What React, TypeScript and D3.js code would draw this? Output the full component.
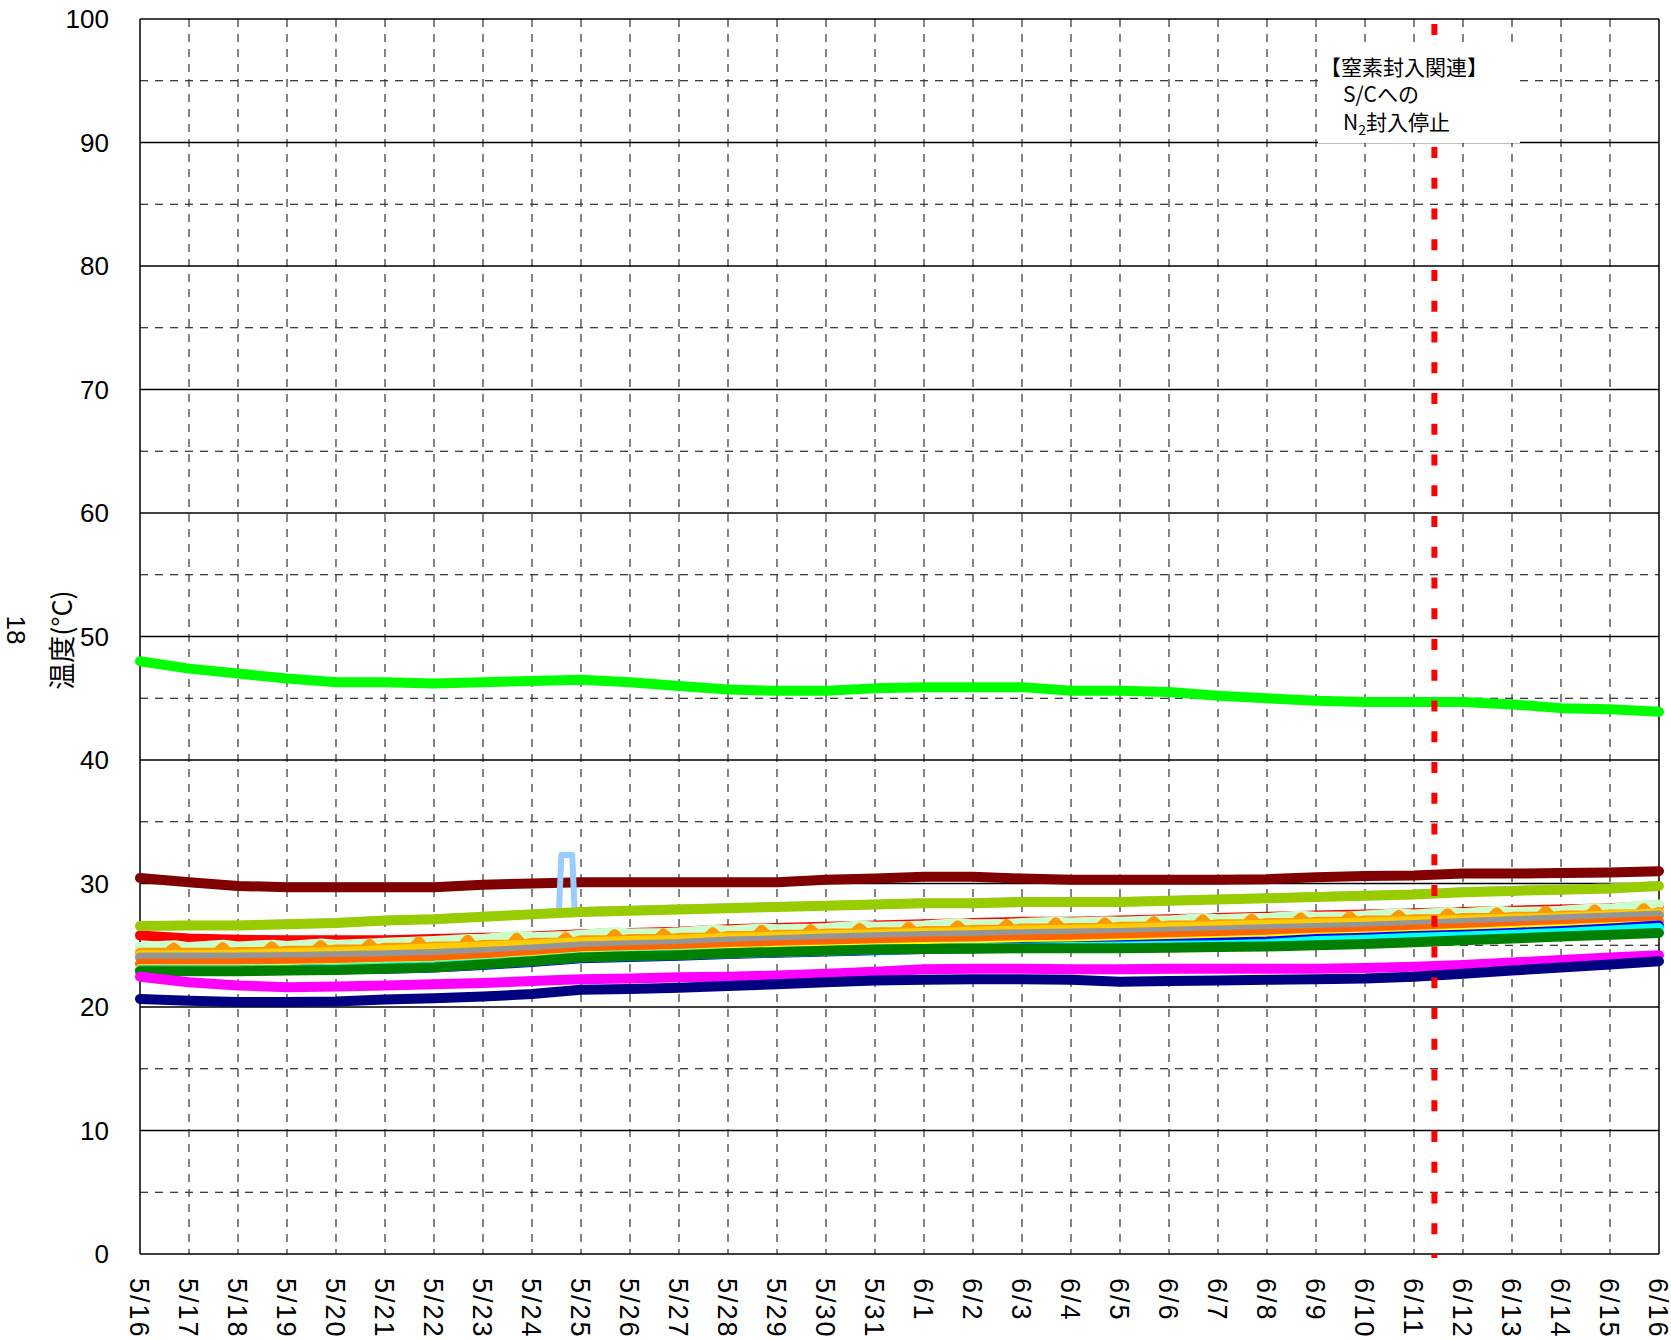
import React from 'react';
import * as d3 from 'd3';

// tick labels (one per day, 5/16 .. 6/16, 2011)
const dayLabels = [
  '5/16', '5/17', '5/18', '5/19', '5/20', '5/21', '5/22', '5/23', '5/24', '5/25', '5/26',
  '5/27', '5/28', '5/29', '5/30', '5/31', '6/1', '6/2', '6/3', '6/4', '6/5', '6/6',
  '6/7', '6/8', '6/9', '6/10', '6/11', '6/12', '6/13', '6/14', '6/15', '6/16',
];
const yTicks = [0, 10, 20, 30, 40, 50, 60, 70, 80, 90, 100];
const yMinor = [5, 15, 25, 35, 45, 55, 65, 75, 85, 95];

// event marker
const n2StopTime = new Date(2011, 5, 11, 10, 0);
const noteLines = ['【窒素封入関連】', 'S/Cへの', '封入停止'];

// daily readings (°C), one value per day label
const brightGreen = [48.0, 47.4, 47.0, 46.6, 46.3, 46.3, 46.2, 46.3, 46.4, 46.5, 46.3, 46.0, 45.7, 45.6, 45.6, 45.8, 45.9, 45.9, 45.9, 45.6, 45.6, 45.5, 45.2, 45.0, 44.8, 44.7, 44.7, 44.7, 44.5, 44.2, 44.1, 43.9];
const darkRed = [30.45, 30.1, 29.8, 29.7, 29.7, 29.7, 29.7, 29.9, 30.0, 30.1, 30.1, 30.1, 30.1, 30.1, 30.3, 30.4, 30.55, 30.55, 30.4, 30.3, 30.3, 30.3, 30.3, 30.35, 30.5, 30.6, 30.65, 30.8, 30.8, 30.85, 30.9, 31.0];
const yellowGreen = [26.55, 26.6, 26.6, 26.7, 26.8, 27.0, 27.1, 27.3, 27.5, 27.7, 27.8, 27.9, 28.0, 28.1, 28.2, 28.3, 28.4, 28.4, 28.5, 28.5, 28.5, 28.6, 28.7, 28.8, 28.9, 29.0, 29.1, 29.3, 29.4, 29.5, 29.6, 29.8];
const lightBlue = [26.7, 26.75, 26.75, 26.85, 26.95, 27.15, 27.25, 27.45, 27.65, 27.85, 27.95, 28.05, 28.15, 28.25, 28.35, 28.45, 28.55, 28.55, 28.65, 28.65, 28.65, 28.75, 28.85, 28.95, 29.05, 29.15, 29.25, 29.45, 29.55, 29.65, 29.75, 29.95];
// light blue excursion on 5/24 (day offset from 5/16, value)
const lightBlueSpike: [number, number][] = [[8.55, 27.8], [8.6, 32.3], [8.82, 32.3], [8.87, 27.9]];
const red = [25.8, 25.55, 25.45, 25.4, 25.4, 25.4, 25.5, 25.6, 25.7, 25.9, 26.0, 26.1, 26.3, 26.4, 26.5, 26.6, 26.7, 26.8, 26.9, 26.9, 27.0, 27.1, 27.2, 27.3, 27.4, 27.5, 27.6, 27.7, 27.8, 27.9, 28.0, 28.2];
const gold = [24.2, 24.2, 24.25, 24.35, 24.45, 24.6, 24.75, 24.9, 25.05, 25.25, 25.35, 25.45, 25.6, 25.7, 25.8, 25.9, 26.0, 26.1, 26.2, 26.25, 26.35, 26.45, 26.55, 26.65, 26.75, 26.85, 26.95, 27.05, 27.15, 27.25, 27.4, 27.6];
const gray = [24.0, 24.0, 24.0, 24.05, 24.1, 24.2, 24.3, 24.45, 24.65, 24.9, 25.0, 25.1, 25.3, 25.4, 25.55, 25.65, 25.75, 25.8, 25.9, 25.95, 26.0, 26.1, 26.2, 26.3, 26.4, 26.5, 26.65, 26.8, 26.95, 27.1, 27.25, 27.4];
const orangeRed = [23.5, 23.5, 23.55, 23.6, 23.65, 23.7, 23.8, 24.0, 24.2, 24.45, 24.6, 24.7, 24.85, 25.0, 25.1, 25.2, 25.3, 25.35, 25.45, 25.5, 25.6, 25.7, 25.8, 25.9, 26.0, 26.1, 26.25, 26.4, 26.5, 26.65, 26.8, 26.95];
const yellow = [23.05, 23.05, 23.05, 23.1, 23.15, 23.25, 23.35, 23.55, 23.8, 24.1, 24.2, 24.3, 24.45, 24.55, 24.65, 24.75, 24.85, 24.9, 25.0, 25.05, 25.15, 25.25, 25.35, 25.45, 25.6, 25.7, 25.85, 26.0, 26.15, 26.3, 26.45, 26.6];
const blue = [22.95, 22.95, 22.95, 23.0, 23.05, 23.1, 23.2, 23.4, 23.65, 23.95, 24.05, 24.15, 24.3, 24.4, 24.5, 24.6, 24.7, 24.75, 24.85, 24.9, 25.0, 25.1, 25.2, 25.3, 25.5, 25.6, 25.75, 25.85, 26.0, 26.15, 26.35, 26.6];
const cyan = [22.95, 22.95, 22.95, 23.0, 23.1, 23.2, 23.3, 23.5, 23.75, 24.05, 24.15, 24.25, 24.35, 24.45, 24.55, 24.65, 24.7, 24.75, 24.8, 24.85, 24.9, 24.95, 25.0, 25.1, 25.35, 25.45, 25.6, 25.7, 25.85, 26.0, 26.2, 26.4];
const green = [22.9, 22.9, 22.9, 22.95, 23.0, 23.1, 23.2, 23.45, 23.7, 24.0, 24.1, 24.2, 24.35, 24.45, 24.55, 24.65, 24.7, 24.72, 24.75, 24.75, 24.75, 24.8, 24.85, 24.9, 25.0, 25.1, 25.25, 25.4, 25.55, 25.7, 25.85, 26.0];
const magenta = [22.45, 22.0, 21.75, 21.6, 21.65, 21.75, 21.85, 21.95, 22.1, 22.25, 22.3, 22.4, 22.45, 22.55, 22.7, 22.85, 23.05, 23.1, 23.1, 23.05, 23.05, 23.1, 23.1, 23.1, 23.1, 23.15, 23.25, 23.4, 23.6, 23.8, 24.0, 24.2];
const navy = [20.65, 20.5, 20.4, 20.4, 20.45, 20.6, 20.7, 20.85, 21.05, 21.4, 21.45, 21.55, 21.7, 21.85, 22.0, 22.15, 22.2, 22.25, 22.25, 22.2, 22.05, 22.1, 22.15, 22.2, 22.25, 22.3, 22.45, 22.7, 22.95, 23.2, 23.45, 23.7];

// light green: half-day readings (midnight, noon, midnight, ...)
const lightGreen = [
  24.85, 25.0, 24.85, 25.05, 24.9, 25.05, 24.95, 25.15, 25.05, 25.15, 25.2, 25.3, 25.35, 25.5, 25.5, 25.8,
  25.65, 25.75, 25.85, 26.05, 25.95, 26.0, 26.05, 26.25, 26.2, 26.35, 26.3, 26.35, 26.4, 26.6, 26.5, 26.55,
  26.6, 26.8, 26.7, 26.75, 26.8, 26.9, 26.85, 26.95, 26.9, 27.0, 27.0, 27.2, 27.1, 27.2, 27.2, 27.4,
  27.3, 27.35, 27.4, 27.6, 27.5, 27.7, 27.6, 27.8, 27.7, 27.75, 27.8, 28.0, 27.95, 28.25, 28.3,
];
// orange: daily base readings plus a short afternoon peak each day
const orangeBase = [24.4, 24.4, 24.45, 24.55, 24.65, 24.8, 24.9, 25.05, 25.2, 25.4, 25.5, 25.6, 25.75, 25.85, 25.95, 26.05, 26.15, 26.25, 26.35, 26.4, 26.5, 26.6, 26.7, 26.8, 26.9, 27.0, 27.1, 27.2, 27.3, 27.4, 27.5, 27.7];
const orangePeak = [24.8, 24.85, 24.9, 25.0, 25.1, 25.3, 25.45, 25.6, 25.65, 25.9, 25.95, 26.05, 26.25, 26.3, 26.4, 26.5, 26.6, 26.7, 26.85, 26.85, 26.95, 27.1, 27.15, 27.25, 27.35, 27.45, 27.6, 27.65, 27.8, 27.9, 28.0];

const W = 1671;
const H = 1340;
const margin = { top: 19, right: 12, bottom: 86, left: 140 };
const FONT = '"Liberation Sans", Arial, sans-serif';
const JFONT = '"Noto Sans CJK JP", "Liberation Sans", sans-serif';

const start = new Date(2011, 4, 16);
const days = dayLabels.map((s) => {
  const [m, d] = s.split('/').map(Number);
  return new Date(2011, m - 1, d);
});
const halfDays = d3.timeHour.range(start, d3.timeHour.offset(days[days.length - 1], 1), 12);
const atHour = (d: Date, h: number) => d3.timeMinute.offset(d, Math.round(h * 60));

type Pt = { t: Date; v: number };
const daily = (vals: number[]): Pt[] => vals.map((v, i) => ({ t: days[i], v }));
// light green peaks fall late in the day; its "noon" readings are placed at 17h
const halfLate = (vals: number[]): Pt[] =>
  vals.map((v, i) => ({ t: i % 2 ? atHour(halfDays[i - 1], 17) : halfDays[i], v }));

const lightBluePts: Pt[] = daily(lightBlue)
  .concat(lightBlueSpike.map(([d, v]) => ({ t: atHour(start, d * 24), v })))
  .sort((a, b) => +a.t - +b.t);

// orange: base at midnight, shoulders around the peak at ~17h
const orangePts: Pt[] = [];
orangeBase.forEach((b, i) => {
  orangePts.push({ t: days[i], v: b });
  if (i < orangePeak.length) {
    orangePts.push({ t: atHour(days[i], 13.5), v: b });
    orangePts.push({ t: atHour(days[i], 16.5), v: orangePeak[i] });
    orangePts.push({ t: atHour(days[i], 19.5), v: b });
  }
});

// drawing order: first is at the back
const series = [
  { color: '#FF0000', pts: daily(red) },
  { color: '#CCFFCC', pts: halfLate(lightGreen) },
  { color: '#FF9900', pts: orangePts },
  { color: '#FFCC00', pts: daily(gold) },
  { color: '#969696', pts: daily(gray) },
  { color: '#FF6600', pts: daily(orangeRed) },
  { color: '#FFFF00', pts: daily(yellow) },
  { color: '#0000FF', pts: daily(blue) },
  { color: '#00FFFF', pts: daily(cyan) },
  { color: '#008000', pts: daily(green) },
  { color: '#FF00FF', pts: daily(magenta) },
  { color: '#000080', pts: daily(navy) },
  { color: '#800000', pts: daily(darkRed) },
  { color: '#99CCFF', pts: lightBluePts, width: 6 },
  { color: '#99CC00', pts: daily(yellowGreen) },
  { color: '#00FF00', pts: daily(brightGreen) },
];

export default function App() {
  const x = d3.scaleTime()
    .domain([days[0], days[days.length - 1]])
    .range([margin.left, W - margin.right]);
  const y = d3.scaleLinear()
    .domain([0, 100])
    .range([H - margin.bottom, margin.top]);

  const line = d3.line<Pt>()
    .x((d) => x(d.t))
    .y((d) => y(d.v));

  const x0 = x.range()[0];
  const x1 = x.range()[1];
  const yTop = y(100);
  const yBot = y(0);
  const xN2 = x(n2StopTime);

  return (
    <svg width={W} height={H} style={{ position: 'absolute', left: 0, top: 0, background: '#fff' }}>
      {/* minor (dashed) horizontal grid */}
      {yMinor.map((v) => (
        <line key={'ym' + v} x1={x0} x2={x1} y1={y(v)} y2={y(v)}
          stroke="#000" strokeWidth={1.2} strokeDasharray="8 7" />
      ))}
      {/* vertical dashed grid, one per day */}
      {days.slice(1, -1).map((d, i) => (
        <line key={'xv' + i} x1={x(d)} x2={x(d)} y1={yTop} y2={yBot}
          stroke="#333" strokeWidth={1.2} strokeDasharray="8 7" />
      ))}
      {/* major horizontal grid */}
      {yTicks.map((v) => (
        <line key={'yM' + v} x1={x0} x2={x1} y1={y(v)} y2={y(v)} stroke="#000" strokeWidth={1.3} />
      ))}
      <line x1={x0} x2={x0} y1={yTop} y2={yBot} stroke="#000" strokeWidth={1.5} />
      <line x1={x1} x2={x1} y1={yTop} y2={yBot} stroke="#000" strokeWidth={1.5} />

      {/* data lines */}
      <g fill="none" strokeLinejoin="round" strokeLinecap="round">
        {series.map((s, i) => (
          <path key={i} d={line(s.pts) || ''} stroke={s.color} strokeWidth={s.width || 10} />
        ))}
      </g>

      {/* N2 stop marker */}
      <line x1={xN2} x2={xN2} y1={yTop} y2={yBot + 4} stroke="#FF0000" strokeWidth={6}
        strokeDasharray="11 19.75" strokeDashoffset={25.75} />

      {/* annotation */}
      <rect x={1318} y={47} width={202} height={96} fill="#fff" />
      <g fontFamily={JFONT} fontSize={21} fill="#000">
        <text x={1320} y={75}>{noteLines[0]}</text>
        <text x={1343} y={102}>{noteLines[1]}</text>
        <text x={1343} y={130}>
          N<tspan fontSize={14} dy={5}>2</tspan><tspan dy={-5}>{noteLines[2]}</tspan>
        </text>
      </g>

      {/* y tick labels */}
      <g fontFamily={FONT} fontSize={26} fill="#000" textAnchor="end">
        {yTicks.map((v) => (
          <text key={'yl' + v} x={109} y={y(v)} dy="0.36em">{v}</text>
        ))}
      </g>
      {/* x tick labels, rotated */}
      <g fontFamily={FONT} fontSize={27} fill="#000">
        {days.map((d, i) => (
          <text key={'xl' + i} transform={`translate(${x(d)},${yBot + 24}) rotate(90)`} dy="0.36em"
            letterSpacing={2}>
            {dayLabels[i]}
          </text>
        ))}
      </g>

      {/* axis title */}
      <text transform={`translate(62,640) rotate(-90)`} textAnchor="middle" dy="0.36em"
        fontFamily={JFONT} fontSize={27} fill="#000">温度(°C)</text>
      <text transform={`translate(16,630) rotate(90)`} textAnchor="middle" dy="0.36em"
        fontFamily={FONT} fontSize={26} fill="#000">18</text>
    </svg>
  );
}
